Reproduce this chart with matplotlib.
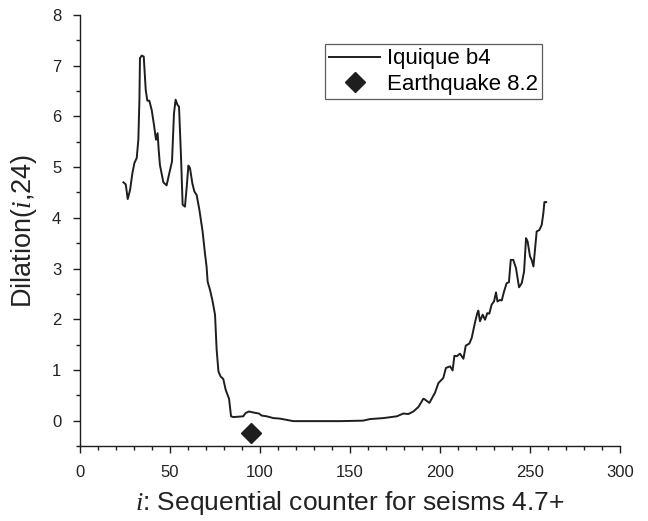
import matplotlib
matplotlib.use("Agg")
import matplotlib.pyplot as plt
from matplotlib.ticker import MultipleLocator

plt.rcParams['font.family'] = ['Liberation Sans', 'DejaVu Sans']
plt.rcParams['mathtext.fontset'] = 'custom'
plt.rcParams['mathtext.it'] = 'Liberation Serif:italic'
plt.rcParams['mathtext.rm'] = 'Liberation Sans'

# Iquique b4 series
x_vals = [24.1, 25.4, 26.5, 27.8, 29.1, 30.2, 31.5, 32.4, 33.0, 33.3, 34.3, 35.4, 36.5, 37.4,
          38.5, 39.8, 41.1, 42.2, 43.1, 43.7, 44.4, 46.3, 48.1, 49.6, 51.1, 52.2, 53.1, 54.1,
          55.0, 56.1, 57.0, 58.3, 59.3, 60.2, 61.1, 62.4, 63.5, 64.8, 66.3, 68.1, 69.4, 70.3,
          70.9, 72.2, 73.5, 75.0, 75.9, 76.9, 78.1, 79.6, 80.9, 82.8, 83.9, 85.2, 90.7, 92.0,
          93.9, 96.3, 99.4, 100.9, 103.7, 107.4, 111.0, 118.5, 130.0, 145.0, 157.4, 161.0,
          168.5, 176.0, 179.6, 182.4, 185.2, 188.0, 190.7, 191.1, 194.1, 197.2, 199.1, 201.8,
          203.3, 205.6, 207.0, 208.0, 209.3, 211.1, 213.0, 214.3, 216.3, 217.6, 219.4, 220.7,
          221.3, 222.2, 223.7, 225.0, 226.3, 227.4, 228.7, 230.0, 231.1, 231.9, 233.3, 234.3,
          235.6, 237.0, 238.3, 239.3, 240.7, 242.2, 243.9, 245.4, 246.7, 247.8, 248.7, 250.0,
          250.9, 251.9, 253.7, 255.2, 256.5, 257.4, 258.0, 259.0]
y_vals = [4.70, 4.66, 4.37, 4.55, 4.88, 5.08, 5.18, 5.54, 6.33, 7.15, 7.20, 7.18, 6.52, 6.31,
          6.31, 6.13, 5.83, 5.54, 5.67, 5.34, 5.04, 4.70, 4.64, 4.88, 5.11, 6.06, 6.33, 6.23,
          6.19, 5.21, 4.26, 4.22, 4.62, 5.03, 4.98, 4.68, 4.52, 4.45, 4.16, 3.73, 3.30, 3.04,
          2.74, 2.58, 2.38, 2.09, 1.40, 0.97, 0.87, 0.82, 0.61, 0.43, 0.085, 0.07, 0.085, 0.15,
          0.18, 0.16, 0.14, 0.10, 0.085, 0.05, 0.04, -0.01, -0.01, -0.01, 0.0, 0.03,
          0.05, 0.085, 0.14, 0.13, 0.18, 0.27, 0.43, 0.43, 0.35, 0.55, 0.74, 0.84,
          1.04, 1.07, 0.99, 1.28, 1.27, 1.32, 1.22, 1.48, 1.52, 1.63, 1.93, 2.12,
          2.17, 1.96, 2.09, 1.99, 2.12, 2.11, 2.29, 2.35, 2.53, 2.35, 2.38, 2.37,
          2.55, 2.71, 2.73, 3.17, 3.17, 3.01, 2.63, 2.71, 2.94, 3.60, 3.53, 3.24,
          3.17, 3.04, 3.73, 3.76, 3.86, 4.09, 4.31, 4.31]

# Earthquake 8.2 marker
eq_x = [95]
eq_y = [-0.25]

fig = plt.figure(figsize=(6.48, 5.21), dpi=100)
ax = fig.add_axes([0.1235, 0.144, 0.8333, 0.8272])

dark = '#1e1e1e'
ax.plot(x_vals, y_vals, color=dark, lw=1.4, label='Iquique b4')
ax.plot(eq_x, eq_y, linestyle='none', marker='D', markersize=10.5, color=dark,
        label='Earthquake 8.2')

ax.set_xlim(0, 300)
ax.set_ylim(-0.5, 8)
ax.xaxis.set_major_locator(MultipleLocator(50))
ax.xaxis.set_minor_locator(MultipleLocator(10))
ax.yaxis.set_major_locator(MultipleLocator(1))
ax.yaxis.set_minor_locator(MultipleLocator(0.5))
ax.set_yticks([0, 1, 2, 3, 4, 5, 6, 7, 8])

for s in ['top', 'right']:
    ax.spines[s].set_visible(False)
for s in ['left', 'bottom']:
    ax.spines[s].set_color(dark)
    ax.spines[s].set_linewidth(1.0)

ax.tick_params(which='major', direction='out', length=5, width=1.0, colors=dark,
               labelsize=12, labelcolor='#222222', pad=8.5)
ax.tick_params(which='minor', direction='out', length=3, width=1.0, colors=dark)

ax.set_xlabel(r'$\mathit{i}$: Sequential counter for seisms 4.7+', fontsize=19,
              color='#222222', labelpad=7)
ax.set_ylabel(r'Dilation($\mathit{i}$,24)', fontsize=19.5, color='#222222', labelpad=9)

leg = ax.legend(loc='upper right', bbox_to_anchor=(0.856, 0.933), borderaxespad=0,
                fontsize=16, frameon=True, fancybox=False, edgecolor='#333333',
                handlelength=2.3, handletextpad=0.3, borderpad=0.2, labelspacing=0.2)
leg.get_frame().set_linewidth(0.9)

fig.savefig('out.png', dpi=100)
